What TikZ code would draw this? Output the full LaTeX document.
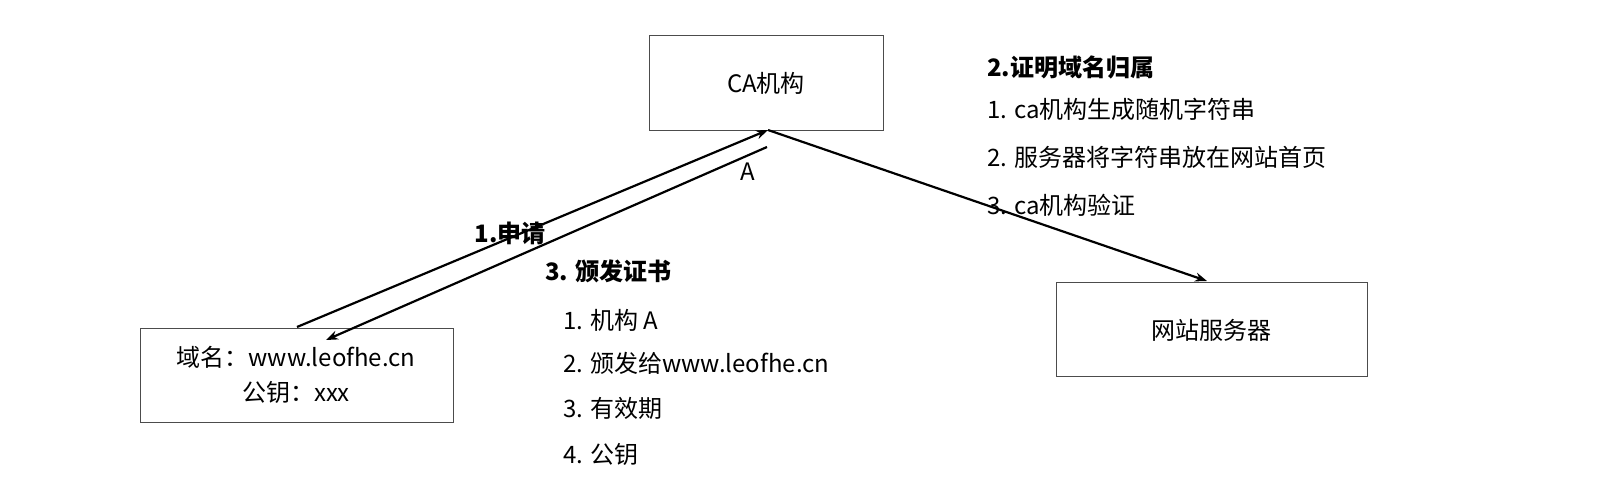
\documentclass[tikz,border=0pt]{standalone}
\usepackage{fontspec}
\setmainfont{Noto Sans CJK SC}
\usetikzlibrary{arrows.meta}
\begin{document}
\begin{tikzpicture}[x=1pt,y=-1pt,
  box/.style={draw=black!70,line width=0.9pt},
  txt/.style={font=\fontsize{24}{29}\selectfont,inner sep=0pt},
  btxt/.style={font=\fontsize{24}{29}\selectfont\bfseries,inner sep=0pt},
  arr/.style={line width=2.2pt,-{Stealth[length=12pt,width=9pt]}}]
\draw[box] (649,35) rectangle (883,130);
\node[txt] (ca) at (766,83) {CA机构};
\draw[box] (140,328) rectangle (453,422);
\node[txt,align=center] (dom) at (296,375) {域名：www.leofhe.cn\\[6pt]公钥：xxx};
\draw[box] (1056,282) rectangle (1367,376);
\node[txt] (srv) at (1211,330) {网站服务器};
\coordinate (d1) at (297,327);
\coordinate (c1) at (768,130);
\coordinate (c2) at (767,147);
\coordinate (d2) at (326,340);
\coordinate (s1) at (1207,281);
\draw[arr] (d1) -- (c1);
\draw[arr] (c2) -- (d2);
\draw[arr] (c1) -- (s1);
\node[btxt] (l1) at (510,233) {1.申请};
\node[txt] (la) at (748,172) {A};
\node[btxt,anchor=west] (l3) at (545,271) {3. 颁发证书};
\node[txt,anchor=west] at (563,320) {1. 机构 A};
\node[txt,anchor=west] at (563,363) {2. 颁发给www.leofhe.cn};
\node[txt,anchor=west] at (563,408) {3. 有效期};
\node[txt,anchor=west] at (563,454) {4. 公钥};
\node[btxt,anchor=west] (l2) at (987,67) {2.证明域名归属};
\node[txt,anchor=west] at (987,109) {1. ca机构生成随机字符串};
\node[txt,anchor=west] at (987,157) {2. 服务器将字符串放在网站首页};
\node[txt,anchor=west] at (987,205) {3. ca机构验证};
\pgfresetboundingbox
\useasboundingbox (0,0) rectangle (1598,492);
\end{tikzpicture}
\end{document}
